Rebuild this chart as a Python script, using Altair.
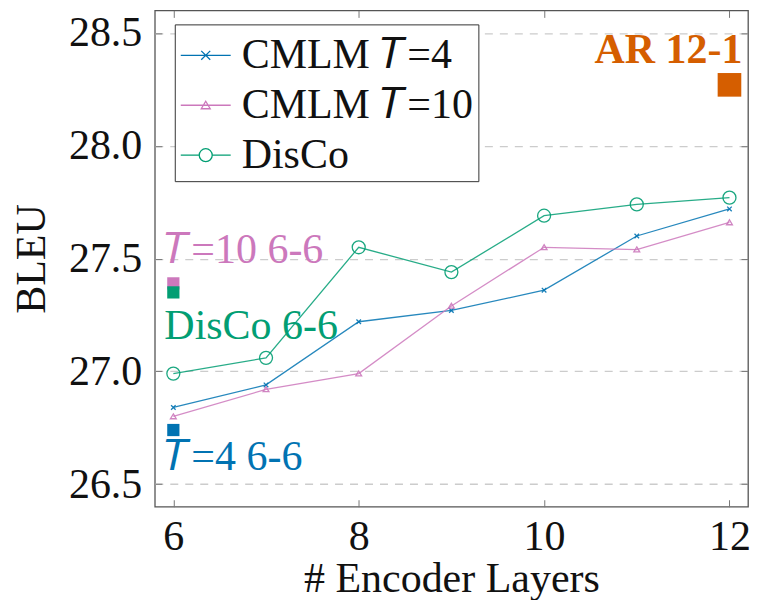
import altair as alt
import pandas as pd

# ---------------- data ----------------
layers = [6, 7, 8, 9, 10, 11, 12]
cmlm_t4 = [26.84, 26.94, 27.22, 27.27, 27.36, 27.60, 27.72]
cmlm_t10 = [26.80, 26.92, 26.99, 27.29, 27.55, 27.54, 27.66]
disco = [26.99, 27.06, 27.55, 27.44, 27.69, 27.74, 27.77]
series_names = ["CMLM 𝑇=4", "CMLM 𝑇=10", "DisCo"]

ref_names = ["𝑇=10 6-6", "DisCo 6-6", "𝑇=4 6-6", "AR 12-1"]
ref_layers = [6, 6, 6, 12]
ref_bleu = [27.39, 27.35, 26.74, 28.27]
ref_label_bleu = [27.54, 27.20, 26.62, 28.425]

x_ticks = [6, 8, 10, 12]
y_ticks = [26.5, 27.0, 27.5, 28.0, 28.5]

# ---------------- styles ----------------
FONT = "Liberation Serif"
FS = 42
series_colors = ["#0173B2", "#CC78BC", "#029E73"]
ref_colors = ["#CC78BC", "#029E73", "#0173B2", "#D55E00"]
marker_paths = [
    "M-0.35,-0.35L0.35,0.35M-0.35,0.35L0.35,-0.35",
    "M0,-0.4L0.45,0.35L-0.45,0.35Z",
    "circle",
]
legend_paths = [
    "M-1,0L1,0M-0.18,-0.18L0.18,0.18M-0.18,0.18L0.18,-0.18",
    "M-1,0L1,0M0,-0.16L0.18,0.14L-0.18,0.14Z",
    "M-1,0L-0.26,0M0.26,0L1,0M0.26,0A0.26,0.26 0 1,1 -0.26,0A0.26,0.26 0 1,1 0.26,0",
]

rows = []
for name, vals in zip(series_names, [cmlm_t4, cmlm_t10, disco]):
    for l, v in zip(layers, vals):
        rows.append({"layer": l, "bleu": v, "series": name})
df = pd.DataFrame(rows)

ref_df = pd.DataFrame({
    "name": ref_names,
    "layer": ref_layers,
    "bleu": ref_bleu,
    "label_bleu": ref_label_bleu,
})

xs = alt.Scale(domain=[5.8, 12.2], nice=False, zero=False)
ys = alt.Scale(domain=[26.4, 28.6], nice=False, zero=False)

axis_left = alt.Axis(
    orient="left", values=y_ticks, format=".1f", offset=-7, tickSize=7,
    labelPadding=13, domain=False, grid=True, gridDash=[8, 7],
    gridColor="#cccccc", gridWidth=1.3, tickColor="#777777", tickWidth=1,
    labelFont=FONT, labelFontSize=FS, labelColor="#111111",
    title="BLEU", titleFont=FONT, titleFontSize=FS, titleFontWeight="normal",
    titleColor="#111111", titlePadding=15,
)
axis_right = alt.Axis(
    orient="right", values=y_ticks, offset=-7, tickSize=7, labels=False,
    domain=False, grid=False, title=None, tickColor="#777777", tickWidth=1,
)
axis_bottom = alt.Axis(
    orient="bottom", values=x_ticks, format="d", offset=-7, tickSize=7,
    labelPadding=10, domain=False, grid=False, tickColor="#777777", tickWidth=1,
    labelFont=FONT, labelFontSize=FS, labelColor="#111111", labelFlush=False,
    title="# Encoder Layers", titleFont=FONT, titleFontSize=FS,
    titleFontWeight="normal", titleColor="#111111", titlePadding=1,
)
axis_top = alt.Axis(
    orient="top", values=x_ticks, offset=-7, tickSize=7, labels=False,
    domain=False, grid=False, title=None, tickColor="#777777", tickWidth=1,
)

base = alt.Chart(df)
layers_list = []

# lines
for i, (name, col) in enumerate(zip(series_names, series_colors)):
    ln = base.transform_filter(alt.datum.series == name).mark_line(
        color=col, strokeWidth=1.3, opacity=0.85
    ).encode(
        x=alt.X("layer:Q", scale=xs, axis=axis_bottom if i == 0 else None),
        y=alt.Y("bleu:Q", scale=ys, axis=axis_left if i == 0 else None),
    )
    layers_list.append(ln)

# markers
for i, (name, col, path) in enumerate(zip(series_names, series_colors, marker_paths)):
    pt = base.transform_filter(alt.datum.series == name).mark_point(
        color=col, shape=path, size=169, filled=False, strokeWidth=1.3, opacity=0.9
    ).encode(
        x=alt.X("layer:Q", scale=xs, axis=axis_top if i == 0 else None),
        y=alt.Y("bleu:Q", scale=ys, axis=axis_right if i == 0 else None),
    )
    layers_list.append(pt)

# legend (empty layer carrying the legend)
leg = alt.Legend(
    title=None, orient="none", legendX=20, legendY=14, symbolSize=2500,
    symbolStrokeWidth=1.3, symbolOpacity=1, labelFont=FONT, labelFontSize=FS,
    labelColor="#111111", labelOffset=10, padding=5, rowPadding=3,
    strokeColor="#333333", fillColor="white", labelLimit=500,
)
legend_layer = base.transform_filter("datum.layer > 100").mark_point(
    filled=False, size=2500, strokeWidth=1.3
).encode(
    x=alt.X("layer:Q", scale=xs, axis=None),
    y=alt.Y("bleu:Q", scale=ys, axis=None),
    color=alt.Color("series:N", scale=alt.Scale(domain=series_names, range=series_colors), legend=leg),
    shape=alt.Shape("series:N", scale=alt.Scale(domain=series_names, range=legend_paths), legend=leg),
)
layers_list.append(legend_layer)

fill_scale = alt.Scale(domain=ref_names, range=ref_colors)
rbase = alt.Chart(ref_df)

sq_small = rbase.transform_filter(alt.datum.layer == 6).mark_square(size=150, opacity=1).encode(
    x=alt.X("layer:Q", scale=xs, axis=None),
    y=alt.Y("bleu:Q", scale=ys, axis=None),
    fill=alt.Fill("name:N", scale=fill_scale, legend=None),
)
sq_big = rbase.transform_filter(alt.datum.layer == 12).mark_square(size=560, opacity=1).encode(
    x=alt.X("layer:Q", scale=xs, axis=None),
    y=alt.Y("bleu:Q", scale=ys, axis=None),
    fill=alt.Fill("name:N", scale=fill_scale, legend=None),
)
txt_left = rbase.transform_filter(alt.datum.layer == 6).mark_text(
    align="left", baseline="middle", dx=-9, font=FONT, fontSize=FS
).encode(
    x=alt.X("layer:Q", scale=xs, axis=None),
    y=alt.Y("label_bleu:Q", scale=ys, axis=None),
    text="name:N",
    fill=alt.Fill("name:N", scale=fill_scale, legend=None),
)
txt_right = rbase.transform_filter(alt.datum.layer == 12).mark_text(
    align="right", baseline="middle", dx=13, font=FONT, fontSize=FS, fontWeight="bold"
).encode(
    x=alt.X("layer:Q", scale=xs, axis=None),
    y=alt.Y("label_bleu:Q", scale=ys, axis=None),
    text="name:N",
    fill=alt.Fill("name:N", scale=fill_scale, legend=None),
)
layers_list += [sq_small, sq_big, txt_left, txt_right]

chart = alt.layer(*layers_list).resolve_axis(
    x="independent", y="independent"
).properties(
    width=594, height=497,
    autosize=alt.AutoSizeParams(type="none"),
    padding={"left": 147, "top": 2, "right": 3, "bottom": 93},
).configure_view(
    stroke="#555555", strokeWidth=1.3
)

chart.save("out.html", embed_options={"renderer": "svg", "actions": False})
